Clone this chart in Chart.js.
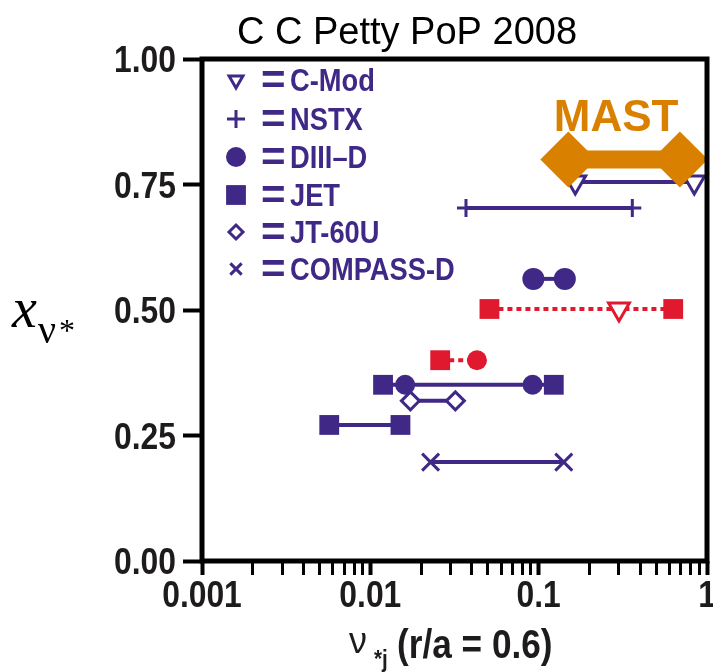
<!DOCTYPE html>
<html>
<head>
<meta charset="utf-8">
<script src="https://cdn.jsdelivr.net/npm/chart.js@4.4.1/dist/chart.umd.min.js"></script>
<style>
  html, body { margin: 0; padding: 0; background: #fff; }
  #wrap { width: 713px; height: 672px; position: relative; }
</style>
</head>
<body>
<div id="wrap"><canvas id="c"></canvas></div>
<script>
// tick values
const xTicks = [0.001, 0.01, 0.1, 1];
const yTicks = [0, 0.25, 0.5, 0.75, 1];

// nu*_i at r/a=0.6 and x_nu* for each scan
const mastNu = [0.15, 0.69];       const mastX = [0.80, 0.80];
const cmodNu = [0.165, 0.84];      const cmodX = [0.755, 0.755];
const nstxNu = [0.037, 0.36];      const nstxX = [0.703, 0.703];
const diiidNu = [0.093, 0.143];    const diiidX = [0.562, 0.562];
const cmodRedNu = [0.30];          const cmodRedX = [0.502];
const jetRedNu = [0.051, 0.63];    const jetRedX = [0.502, 0.502];
const jetRed2Nu = [0.026];         const jetRed2X = [0.40];
const diiidRedNu = [0.043];        const diiidRedX = [0.40];
const diiid2Nu = [0.0161, 0.092];  const diiid2X = [0.351, 0.351];
const jetNu = [0.0119, 0.123];     const jetX = [0.351, 0.351];
const jt60Nu = [0.0173, 0.032];    const jt60X = [0.319, 0.319];
const jet2Nu = [0.0057, 0.0151];   const jet2X = [0.271, 0.271];
const compassNu = [0.0228, 0.141]; const compassX = [0.197, 0.197];

const legendNames = ['C-Mod', 'NSTX', 'DIII\u2013D', 'JET', 'JT-60U', 'COMPASS-D'];

const purple = '#3f2886', red = '#e0192e', orange = '#d98000', ink = '#1e1b1c';
const pts = (nu, x) => nu.map((v, i) => ({ x: v, y: x[i] }));
const sans = '"Liberation Sans", Arial, sans-serif';
const serif = '"Liberation Serif", "Times New Roman", serif';

// legend markers, same styles as the data
const legendMarks = [
  { pointStyle: 'triangle', rotation: 180, radius: 8, borderWidth: 3, fill: '#fff' },
  { pointStyle: 'cross', rotation: 0, radius: 9, borderWidth: 3, fill: purple },
  { pointStyle: 'circle', rotation: 0, radius: 10, borderWidth: 0, fill: purple },
  { pointStyle: 'rect', rotation: 0, radius: 14, borderWidth: 0, fill: purple },
  { pointStyle: 'rectRot', rotation: 0, radius: 7, borderWidth: 3, fill: '#fff' },
  { pointStyle: 'crossRot', rotation: 0, radius: 8, borderWidth: 3, fill: purple }
];

const isDecade = v => Math.abs(Math.log10(v) - Math.round(Math.log10(v))) < 1e-9;

// condensed bold text (the figure uses a narrow Helvetica)
function condText(ctx, text, x, y, align, k) {
  ctx.save();
  ctx.translate(x, y);
  ctx.scale(k, 1);
  ctx.textAlign = align;
  ctx.fillText(text, 0, 0);
  ctx.restore();
}

const decor = {
  id: 'decor',
  afterDraw(chart) {
    const ctx = chart.ctx, a = chart.chartArea;
    const sx = chart.scales.x, sy = chart.scales.y;
    ctx.save();
    // frame
    ctx.strokeStyle = '#000';
    ctx.lineWidth = 5;
    ctx.strokeRect(a.left, a.top, a.right - a.left, a.bottom - a.top);

    // tick labels
    ctx.fillStyle = ink;
    ctx.textBaseline = 'alphabetic';
    ctx.font = 'bold 37px ' + sans;
    yTicks.forEach(v => condText(ctx, v.toFixed(2), 176, sy.getPixelForValue(v) + 13, 'right', 0.86));
    xTicks.forEach(v => condText(ctx, String(v), sx.getPixelForValue(v), 607, 'center', 0.86));

    // title
    ctx.fillStyle = '#000';
    ctx.textAlign = 'center';
    ctx.font = '38px ' + sans;
    ctx.fillText('C C Petty PoP 2008', 407, 44);

    // y axis title  x_{nu*}
    ctx.textAlign = 'left';
    ctx.font = 'italic 56px ' + serif;
    ctx.fillText('x', 12, 327);
    ctx.font = '40px ' + serif;
    ctx.fillText('\u03bd', 38, 343);
    ctx.font = '32px ' + serif;
    ctx.fillText('*', 59, 341);

    // x axis title  nu_{*j} (r/a = 0.6)
    ctx.fillStyle = ink;
    ctx.font = '36px ' + sans;
    ctx.fillText('\u03bd', 349, 653);
    ctx.font = 'bold 24px ' + sans;
    condText(ctx, '*j', 374, 667, 'left', 0.86);
    ctx.font = 'bold 40px ' + sans;
    condText(ctx, '(r/a = 0.6)', 397, 658, 'left', 0.88);

    // legend
    const rowY = [80, 119, 157, 195, 232, 269];
    legendNames.forEach((name, i) => {
      const m = legendMarks[i];
      ctx.fillStyle = m.fill;
      ctx.strokeStyle = purple;
      ctx.lineWidth = m.borderWidth;
      Chart.helpers.drawPoint(ctx, m, 236, rowY[i]);
      ctx.fillStyle = purple;
      ctx.textBaseline = 'alphabetic';
      ctx.font = 'bold 42px ' + sans;
      condText(ctx, '=', 261, rowY[i] + 14, 'left', 1);
      ctx.font = 'bold 31px ' + sans;
      condText(ctx, name, 290, rowY[i] + 11, 'left', 0.88);
    });

    // MAST label over its bar
    const mx = (sx.getPixelForValue(mastNu[0]) + sx.getPixelForValue(mastNu[1])) / 2;
    const my = sy.getPixelForValue(mastX[0]);
    ctx.fillStyle = orange;
    ctx.textAlign = 'center';
    ctx.font = 'bold 44px ' + sans;
    ctx.fillText('MAST', mx - 8, my - 28);
    ctx.restore();
  }
};

const line = (nu, x, color, extra) => Object.assign({
  data: pts(nu, x),
  showLine: true,
  borderColor: color,
  borderWidth: 4,
  pointBorderColor: color,
  pointBackgroundColor: color,
  pointBorderWidth: 0
}, extra);

new Chart(document.getElementById('c'), {
  type: 'scatter',
  data: {
    datasets: [
      line(mastNu, mastX, orange, { label: 'MAST', borderWidth: 18, pointStyle: 'rectRot', pointRadius: 28 }),
      line(cmodNu, cmodX, purple, { label: 'C-Mod', pointStyle: 'triangle', pointRotation: 180, pointRadius: 12,
        pointBackgroundColor: '#fff', pointBorderWidth: 3 }),
      line(nstxNu, nstxX, purple, { label: 'NSTX', pointStyle: 'cross', pointRadius: 9, pointBorderWidth: 3 }),
      line(diiidNu, diiidX, purple, { label: 'DIII-D', pointStyle: 'circle', pointRadius: 11 }),
      line(cmodRedNu, cmodRedX, red, { label: 'C-Mod', showLine: false, pointStyle: 'triangle', pointRotation: 180,
        pointRadius: 12, pointBackgroundColor: '#fff', pointBorderWidth: 3 }),
      line(jetRedNu, jetRedX, red, { label: 'JET', borderDash: [5, 4], pointStyle: 'rect', pointRadius: 14 }),
      line([jetRed2Nu[0], diiidRedNu[0]], [jetRed2X[0], diiidRedX[0]], red, { label: 'link', borderDash: [5, 4], pointRadius: 0 }),
      line(jetRed2Nu, jetRed2X, red, { label: 'JET', showLine: false, pointStyle: 'rect', pointRadius: 14 }),
      line(diiidRedNu, diiidRedX, red, { label: 'DIII-D', showLine: false, pointStyle: 'circle', pointRadius: 10 }),
      line(diiid2Nu, diiid2X, purple, { label: 'DIII-D', showLine: false, pointStyle: 'circle', pointRadius: 10 }),
      line(jetNu, jetX, purple, { label: 'JET', pointStyle: 'rect', pointRadius: 14 }),
      line(jt60Nu, jt60X, purple, { label: 'JT-60U', pointStyle: 'rectRot', pointRadius: 9,
        pointBackgroundColor: '#fff', pointBorderWidth: 3 }),
      line(jet2Nu, jet2X, purple, { label: 'JET', pointStyle: 'rect', pointRadius: 14 }),
      line(compassNu, compassX, purple, { label: 'COMPASS-D', pointStyle: 'crossRot', pointRadius: 12, pointBorderWidth: 3 })
    ]
  },
  options: {
    responsive: true,
    maintainAspectRatio: false,
    animation: false,
    layout: { autoPadding: false, padding: { top: 59, right: 6, left: 0, bottom: 0 } },
    plugins: { legend: { display: false }, tooltip: { enabled: false } },
    scales: {
      x: {
        type: 'logarithmic',
        min: xTicks[0],
        max: xTicks[xTicks.length - 1],
        afterBuildTicks: s => {
          const t = [];
          for (let d = 0; d < xTicks.length - 1; d++) {
            for (let k = 1; k < 10; k++) t.push({ value: xTicks[d] * k });
          }
          t.push({ value: xTicks[xTicks.length - 1] });
          s.ticks = t;
        },
        afterFit: s => { s.height = 111; },
        border: { display: false },
        grid: {
          drawOnChartArea: false,
          tickLength: 14,
          tickColor: '#000',
          tickWidth: c => (c.tick && isDecade(c.tick.value)) ? 4 : 3
        },
        ticks: { display: false, autoSkip: false }
      },
      y: {
        min: yTicks[0],
        max: yTicks[yTicks.length - 1],
        afterBuildTicks: s => { s.ticks = yTicks.map(v => ({ value: v })); },
        afterFit: s => { s.width = 202; },
        border: { display: false },
        grid: { drawOnChartArea: false, tickLength: 19, tickColor: '#000', tickWidth: 4 },
        ticks: { display: false }
      }
    }
  },
  plugins: [decor]
});
</script>
</body>
</html>
